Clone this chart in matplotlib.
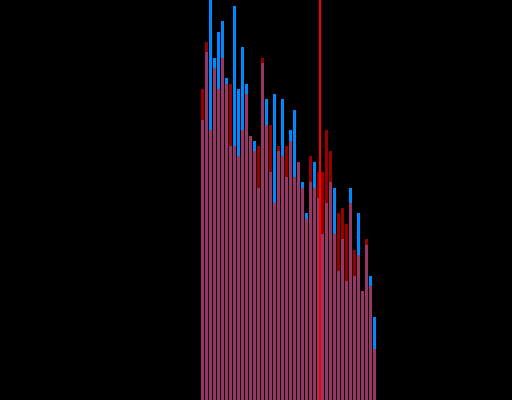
import numpy as np
import matplotlib
matplotlib.use('Agg')
import matplotlib.pyplot as plt

# bin index and the two overlapping series
bins = np.arange(44)
blue_vals = [70.0, 87.0, 101.5, 85.5, 92.0, 94.8, 80.5, 63.5, 98.5, 77.8,
             88.2, 79.0, 66.0, 64.8, 53.0, 84.2, 75.2, 57.0, 76.5, 62.2,
             75.2, 55.8, 67.5, 72.5, 59.5, 54.5, 46.8, 54.5, 59.5, 50.5,
             41.5, 49.2, 54.5, 53.0, 32.2, 40.2, 29.8, 53.0, 31.0, 46.8,
             27.2, 38.8, 31.0, 20.8]
red_vals = [77.8, 89.5, 67.5, 83.0, 77.8, 85.5, 79.0, 79.0, 63.5, 61.0,
            67.5, 76.5, 66.0, 62.2, 63.5, 85.5, 68.8, 68.8, 49.2, 63.5,
            61.0, 63.5, 64.8, 55.8, 59.5, 53.0, 45.2, 61.0, 53.0, 57.0,
            57.0, 67.5, 62.2, 41.5, 46.8, 48.0, 44.0, 49.2, 37.5, 36.2,
            27.2, 40.2, 28.5, 12.8]
cutoff = 29.45

fig = plt.figure(figsize=(5.12, 4.0), dpi=100, facecolor='black')
ax = fig.add_axes([0, 0, 1, 1])
ax.set_facecolor('black')

ax.bar(bins, blue_vals, width=0.75, color='#0088ff', linewidth=0)
ax.bar(bins, red_vals, width=0.75, color='red', alpha=0.6, linewidth=0)
ax.axvline(cutoff, color='red', linewidth=1.4)

ax.set_xlim(-50.625, 77.375)
ax.set_ylim(0, 100)
ax.axis('off')

plt.savefig("out.png", dpi=100, facecolor='black')
plt.close()
